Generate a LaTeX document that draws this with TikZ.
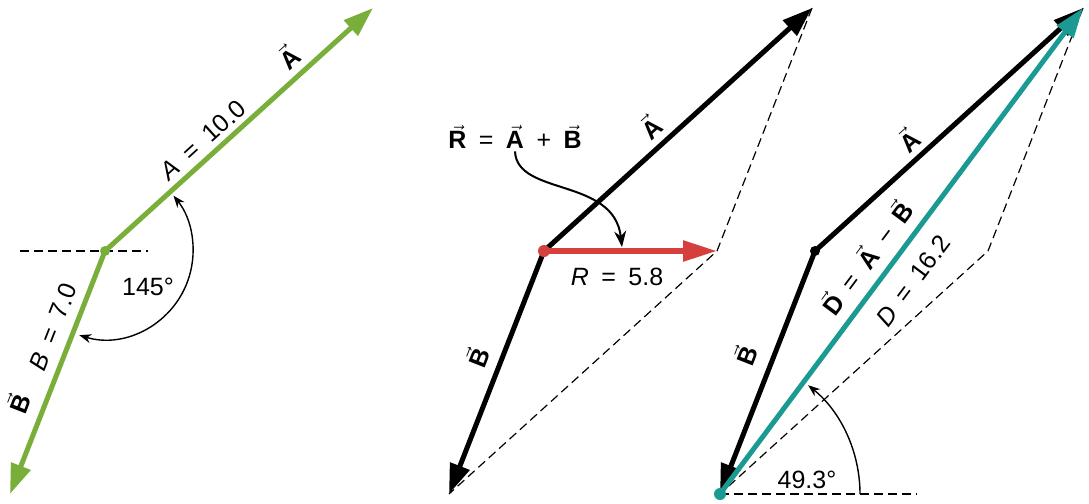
\documentclass[tikz,border=0pt]{standalone}
\usepackage{fontspec}
\setmainfont{Liberation Sans}
\usetikzlibrary{arrows.meta, calc}

\newcommand{\vbold}[1]{$\vec{\mbox{\bfseries #1}}$}
\newcommand{\op}[1]{\enspace#1\enspace}

\definecolor{vgreen}{HTML}{7AAE3A}
\definecolor{vred}{HTML}{D6403C}
\definecolor{vteal}{HTML}{1A9A92}

\tikzset{
  vecline/.style={line width=2.5pt, -{Triangle[length=15pt, width=10pt]}},
  guide/.style={dash pattern=on 4.5pt off 2.5pt, line width=0.6pt},
  tipsmall/.style={line width=0.7pt},
  lbl/.style={font=\fontsize{12.5}{14}\selectfont, inner sep=1pt},
}

\begin{document}
\begin{tikzpicture}[x=0.5pt, y=0.5pt]
  \useasboundingbox (0,0) rectangle (1089,-504);

  % 左の図
  \coordinate (O1) at (105,-251);
  \coordinate (A1) at (373,-8);
  \coordinate (B1) at (10,-494);
  \coordinate (L1) at (20,-251);
  \coordinate (M1) at (148,-251);
  \draw[guide] (L1) -- (M1);
  \draw[vecline, vgreen] (O1) -- (A1);
  \draw[vecline, vgreen] (O1) -- (B1);
  \fill[vgreen] (O1) circle[radius=2.5pt];
  \draw[tipsmall, {Stealth[length=6pt, width=4.5pt]}-{Stealth[length=6pt, width=4.5pt]}]
    ($(O1)+(-107:44pt)$) arc[start angle=-107, end angle=39, radius=44pt];
  \node[lbl] (ang1) at (148,-287) {145°};
  \node[lbl, rotate=42.2] (magA1) at (203,-140) {\textit{A}\op{=}10.0};
  \node[lbl, rotate=42.2] (vecA1) at (288,-57) {\vbold{A}};
  \node[lbl, rotate=68.6] (magB1) at (53,-327) {\textit{B}\op{=}7.0};
  \node[lbl, rotate=68.6] (vecB1) at (18,-403) {\vbold{B}};

  % 中央の図: A + B
  \coordinate (O2) at (544,-251);
  \coordinate (A2) at (812,-8);
  \coordinate (B2) at (449,-494);
  \coordinate (R2) at (717,-251);
  \coordinate (T2) at (622,-247);
  \draw[guide] (A2) -- (R2) -- (B2);
  \draw[vecline] (O2) -- (A2);
  \draw[vecline] (O2) -- (B2);
  \draw[vred, line width=2.8pt, -{Triangle[length=17pt, width=10pt]}] (O2) -- (R2);
  \fill[vred] (O2) circle[radius=3pt];
  \node[lbl] (eqR) at (515,-137) {\vbold{R}\op{=}\vbold{A}\op{+}\vbold{B}};
  \draw[line width=1pt, -{Stealth[length=8pt, width=6pt]}]
    (eqR.south) .. controls +(2,-45) and +(-8,70) .. (T2);
  \node[lbl] (magR) at (617,-277) {\textit{R}\op{=}5.8};
  \node[lbl, rotate=42.2] (vecA2) at (650,-127) {\vbold{A}};
  \node[lbl, rotate=68.6] (vecB2) at (477,-357) {\vbold{B}};

  % 右の図: A - B
  \coordinate (O3) at (815,-251);
  \coordinate (A3) at (1083,-8);
  \coordinate (B3) at (720,-494);
  \coordinate (C3) at (988,-251);
  \coordinate (H3) at (917,-494);
  \draw[guide] (A3) -- (C3) -- (B3);
  \draw[guide] (B3) -- (H3);
  \draw[vecline] (O3) -- (A3);
  \draw[vecline] (O3) -- (B3);
  \draw[vteal, line width=2.5pt, -{Triangle[length=15pt, width=10pt]}] (B3) -- (A3);
  \fill (O3) circle[radius=2.5pt];
  \fill[vteal] (B3) circle[radius=3pt];
  \draw[tipsmall, -{Stealth[length=6pt, width=4.5pt]}]
    ($(B3)+(0:70pt)$) arc[start angle=0, end angle=51, radius=70pt];
  \node[lbl] (ang3) at (807,-480) {49.3°};
  \node[lbl, rotate=42.2] (vecA3) at (908,-140) {\vbold{A}};
  \node[lbl, rotate=68.6] (vecB3) at (745,-355) {\vbold{B}};
  \node[lbl, rotate=53.2] (eqD) at (866,-257) {\vbold{D}\op{=}\vbold{A}\op{−}\vbold{B}};
  \node[lbl, rotate=53.2] (magD) at (913,-281) {\textit{D}\op{=}16.2};
\end{tikzpicture}
\end{document}
